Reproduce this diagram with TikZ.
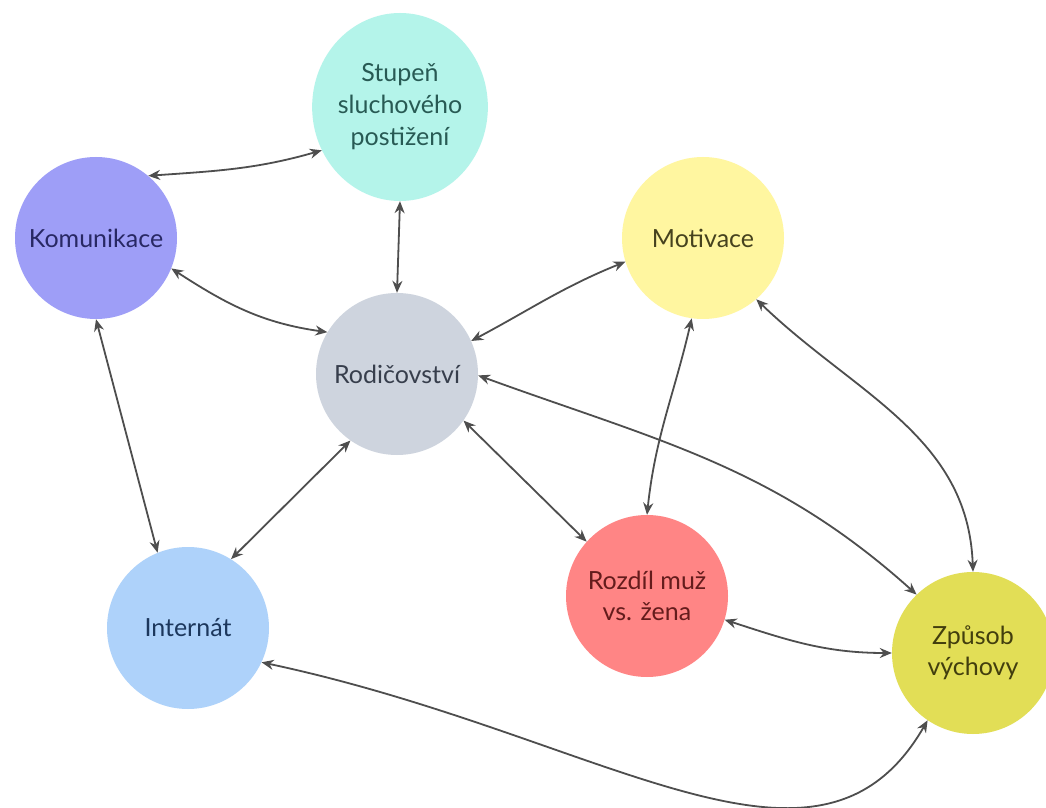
\documentclass[tikz,border=0pt]{standalone}
\usepackage{fontspec}
\setmainfont{Lato}
\usetikzlibrary{arrows.meta,shapes.geometric}
\definecolor{cStup}{RGB}{180,244,234}
\definecolor{cKom}{RGB}{158,158,247}
\definecolor{cMot}{RGB}{255,246,160}
\definecolor{cRod}{RGB}{206,212,222}
\definecolor{cInt}{RGB}{174,210,250}
\definecolor{cRoz}{RGB}{255,133,133}
\definecolor{cZp}{RGB}{226,222,86}
\definecolor{tStup}{RGB}{40,90,84}
\definecolor{tKom}{RGB}{40,40,100}
\definecolor{tMot}{RGB}{70,66,30}
\definecolor{tRod}{RGB}{55,62,76}
\definecolor{tInt}{RGB}{28,55,92}
\definecolor{tRoz}{RGB}{100,28,28}
\definecolor{tZp}{RGB}{66,62,14}
\definecolor{lineC}{RGB}{78,78,78}
\tikzset{
  bubble/.style={circle, minimum size=162pt, inner sep=0pt, align=center,
    font=\fontsize{25}{31}\selectfont},
  link/.style={draw=lineC, line width=1.8pt,
    {Stealth[length=12pt,width=10pt]}-{Stealth[length=12pt,width=10pt]}}
}
\begin{document}
\begin{tikzpicture}[x=1pt,y=1pt]
\useasboundingbox[fill=white] (0,0) rectangle (1046,807);
% nodes
\node[ellipse, minimum width=158pt, minimum height=188pt, inner sep=0pt, align=center,
      font=\fontsize{25}{32}\selectfont, fill=cStup, text=tStup] (stup) at (400,700)
      {Stupeň\\sluchového\\postižení};
\node[bubble, fill=cKom, text=tKom] (kom) at (96,569) {Komunikace};
\node[bubble, fill=cMot, text=tMot] (mot) at (703,569) {Motivace};
\node[bubble, fill=cRod, text=tRod] (rod) at (397,433) {Rodičovství};
\node[bubble, fill=cInt, text=tInt] (int) at (188,179) {Internát};
\node[bubble, fill=cRoz, text=tRoz] (roz) at (647,211) {Rozdíl muž\\vs. žena};
\node[bubble, fill=cZp, text=tZp] (zp) at (973,154) {Způsob\\výchovy};
% connectors
\draw[link] (kom.50) to[out=4,in=196] (stup.209);
\draw[link] (stup.south) -- (rod.north);
\draw[link] (kom.-22) to[out=-33,in=172] (rod.149);
\draw[link] (rod.24) to[out=28,in=202] (mot.197);
\draw[link] (rod.-1) to[out=-20,in=138] (zp.134);
\draw[link] (mot.-49) to[out=-44,in=92] (zp.north);
\draw[link] (rod.-35) -- (roz.138);
\draw[link] (mot.-98) to[out=-103,in=84] (roz.north);
\draw[link] (roz.-17) to[out=-18,in=180] (zp.west);
\draw[link] (kom.-90) -- (int.112);
\draw[link] (rod.-125) -- (int.58);
\draw[link] (int.-25) .. controls +(-12:350) and +(240:220) .. (zp.-124);
\end{tikzpicture}
\end{document}
